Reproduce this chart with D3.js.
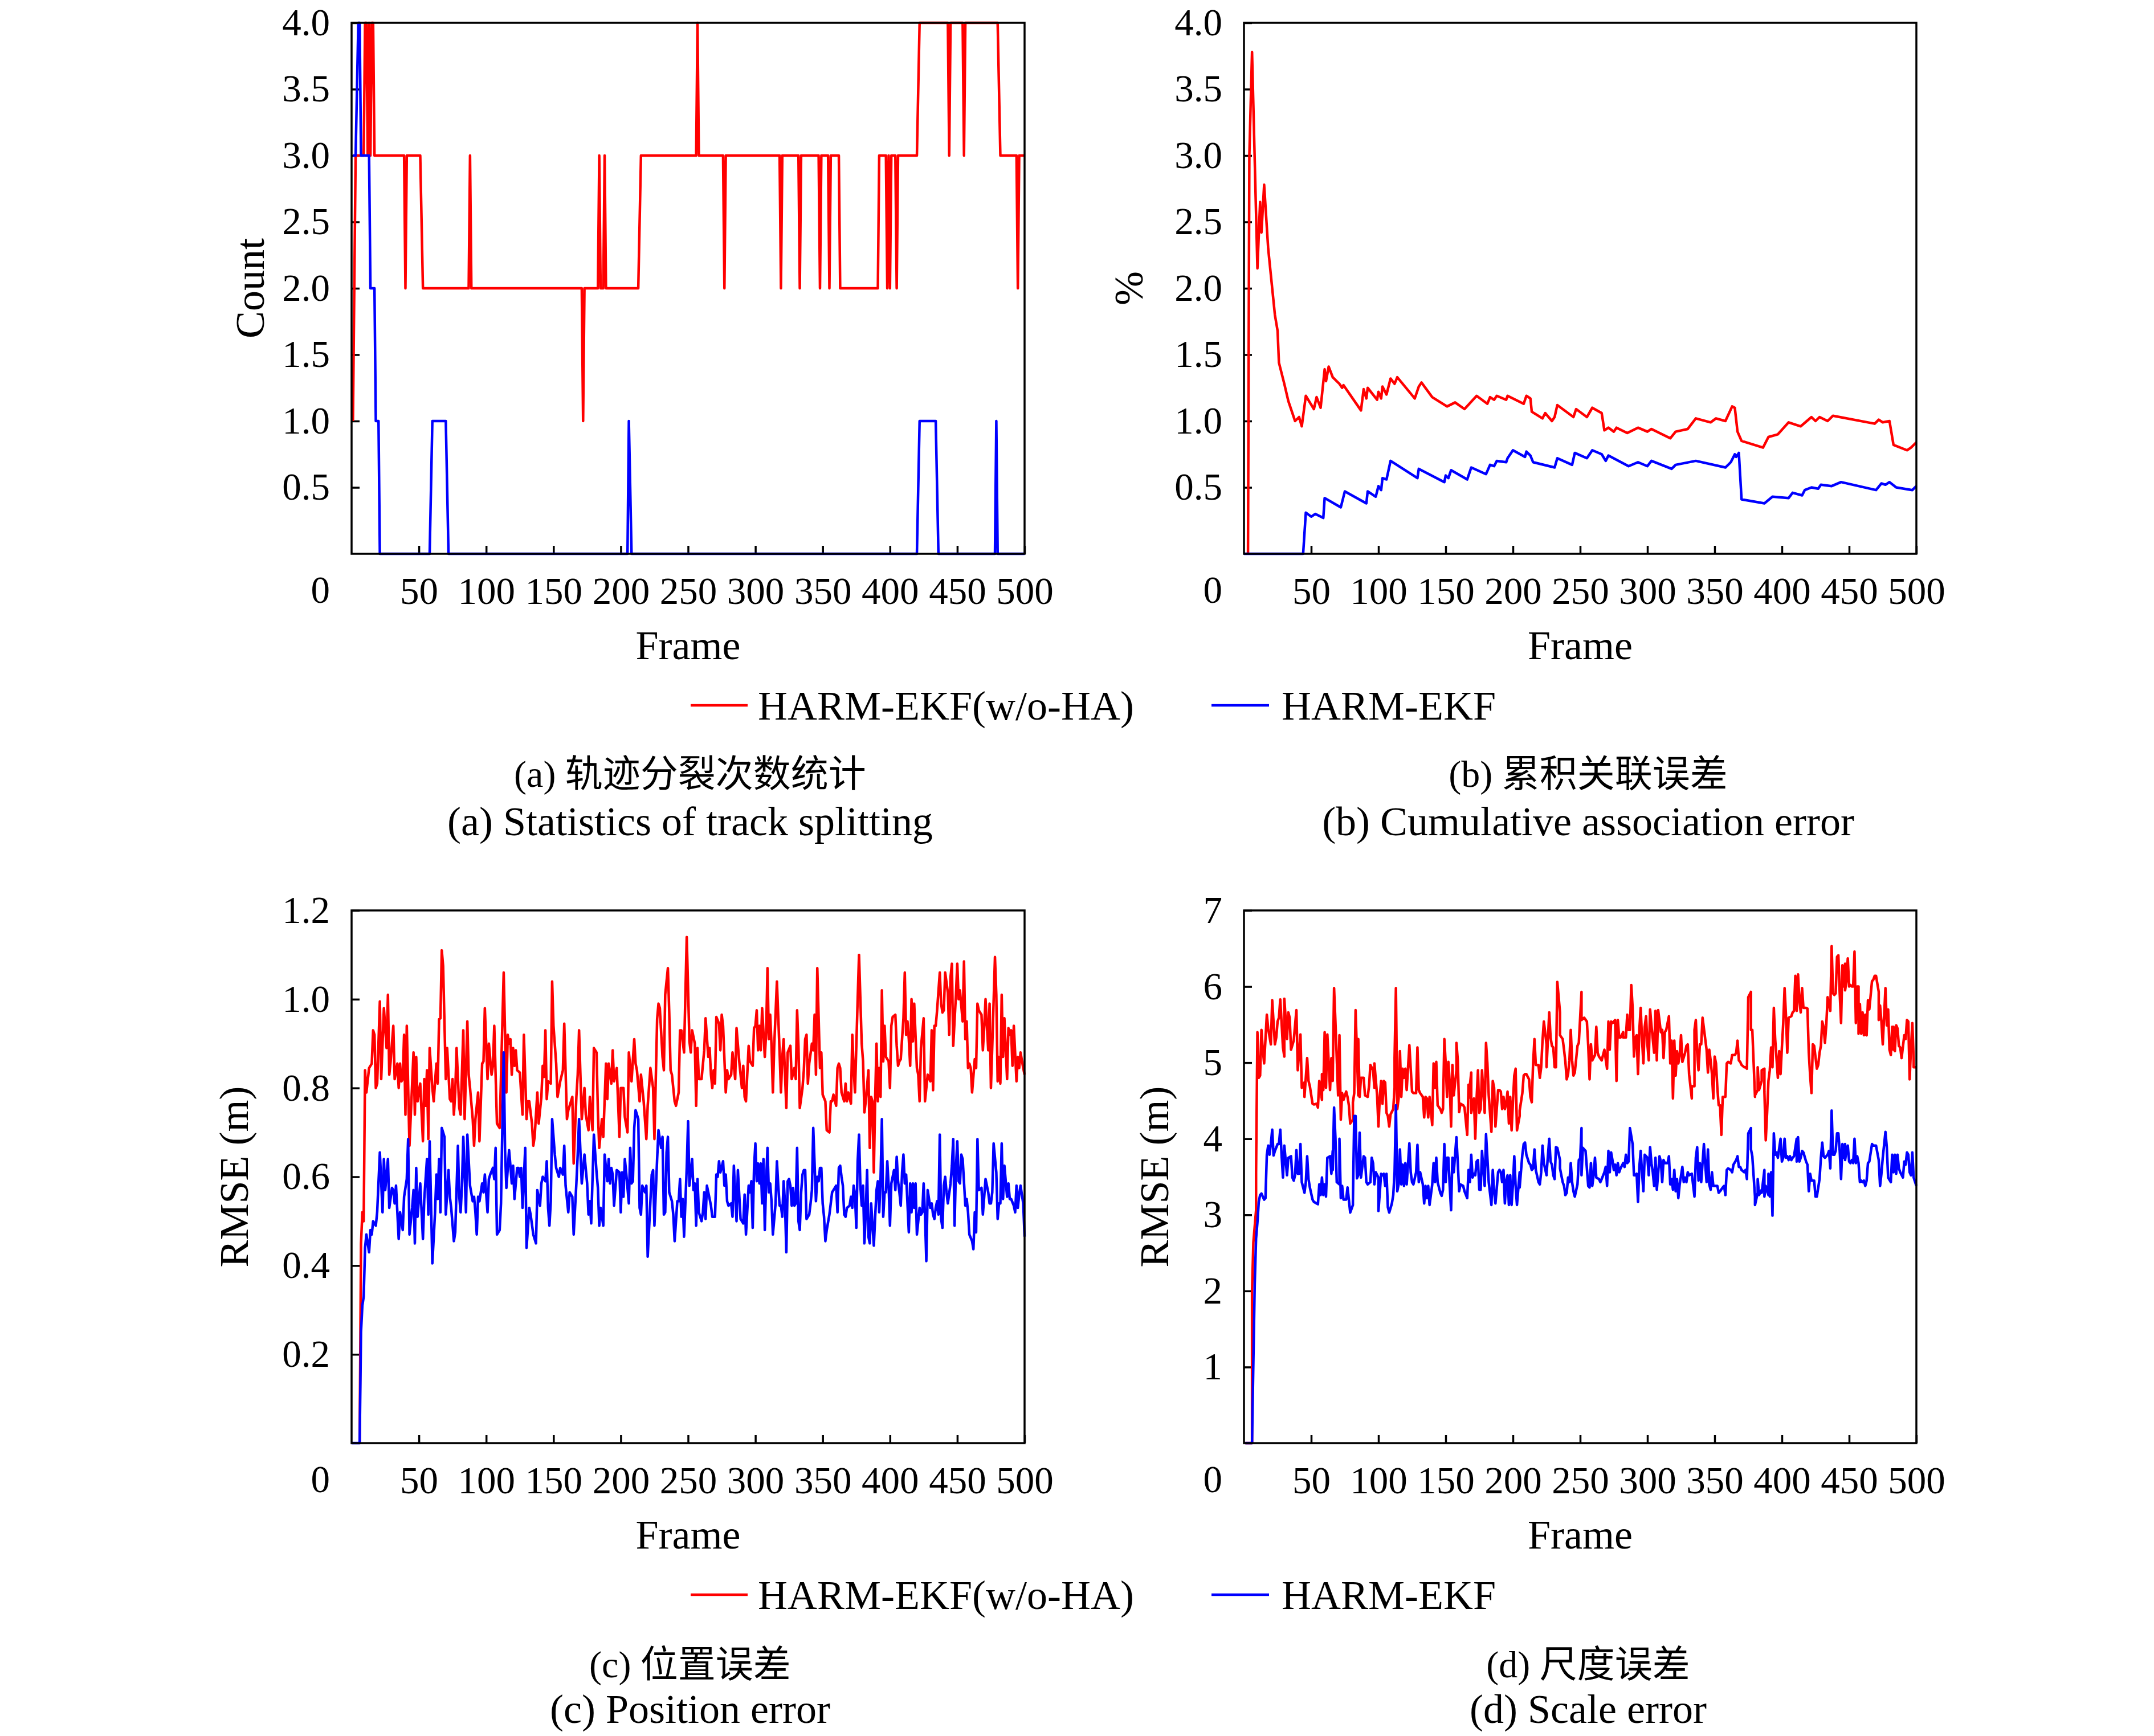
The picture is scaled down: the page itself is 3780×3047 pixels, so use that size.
<!DOCTYPE html>
<html lang="zh">
<head>
<meta charset="UTF-8">
<title>HARM-EKF comparison</title>
<script src="https://d3js.org/d3.v7.min.js"></script>
<style>
  body { margin: 0; background: #fff; }
  svg { display: block; }
</style>
</head>
<body>
<div id="chart"></div>
<script>
// ---- data ----
const frameTicks = [50, 100, 150, 200, 250, 300, 350, 400, 450, 500];
const seriesNames = ["HARM-EKF(w/o-HA)", "HARM-EKF"];

// (a) track splitting count, [frame, count]
const splitRed = [[1,1],[3,3],[9,3],[10,4],[11,4],[12,3],[13,4],[14,3],[15,4],[16,4],[17,3],[39,3],[40,2],[41,3],[51,3],[53,2],[87,2],[88,3],[89,2],[171,2],[172,1],[173,2],[183,2],[184,3],[185,2],[187,2],[188,3],[189,2],[213,2],[215,3],[256,3],[257,4],[258,3],[276,3],[277,2],[278,3],[318,3],[319,2],[320,3],[332,3],[333,2],[334,3],[347,3],[348,2],[349,3],[354,3],[355,2],[356,3],[362,3],[363,2],[391,2],[392,3],[397,3],[398,2],[399,3],[400,2],[401,3],[404,3],[405,2],[406,3],[420,3],[422,4],[443,4],[444,3],[445,4],[454,4],[455,3],[456,4],[480,4],[482,3],[494,3],[495,2],[496,3],[500,3]];
const splitBlue = [[1,3],[3,3],[5,4],[6,4],[7,3],[13,3],[14,2],[17,2],[18,1],[20,1],[21,0],[58,0],[60,1],[70,1],[72,0],[205,0],[206,1],[208,0],[420,0],[422,1],[434,1],[436,0],[478,0],[479,1],[480,0],[500,0]];

// (b) cumulative association error %, [frame, value]
const cumRed = [[3,0],[4,3.0],[6,3.78],[10,2.15],[12,2.65],[13,2.42],[15,2.78],[18,2.3],[20,2.1],[23,1.8],[25,1.68],[26,1.44],[30,1.28],[33,1.15],[36,1.06],[38,1.0],[41,1.03],[43,0.96],[46,1.19],[49,1.14],[52,1.09],[54,1.18],[57,1.1],[60,1.39],[61,1.3],[63,1.41],[66,1.33],[71,1.28],[73,1.25],[74,1.27],[87,1.08],[89,1.24],[91,1.17],[92,1.25],[99,1.16],[100,1.22],[102,1.17],[103,1.26],[106,1.2],[109,1.32],[112,1.28],[114,1.33],[127,1.17],[130,1.26],[132,1.29],[140,1.18],[151,1.11],[157,1.14],[164,1.09],[173,1.19],[181,1.13],[183,1.18],[186,1.16],[188,1.19],[195,1.16],[196,1.19],[208,1.13],[210,1.19],[213,1.17],[214,1.07],[222,1.02],[224,1.06],[229,1.0],[231,1.03],[233,1.12],[245,1.03],[247,1.09],[255,1.03],[259,1.1],[266,1.06],[268,0.93],[271,0.95],[275,0.92],[277,0.95],[285,0.91],[293,0.95],[300,0.92],[303,0.94],[317,0.87],[321,0.92],[330,0.94],[333,0.98],[336,1.02],[347,0.99],[351,1.02],[358,1.0],[363,1.11],[365,1.1],[367,0.92],[370,0.85],[386,0.8],[390,0.88],[397,0.9],[405,0.99],[414,0.96],[422,1.03],[425,1.0],[428,1.03],[434,1.0],[438,1.04],[469,0.98],[472,1.01],[475,0.99],[480,1.0],[483,0.82],[493,0.78],[496,0.8],[500,0.84]];
const cumBlue = [[0,0],[44,0],[46,0.31],[50,0.28],[53,0.3],[59,0.27],[60,0.42],[72,0.35],[75,0.47],[91,0.38],[92,0.47],[98,0.43],[100,0.51],[102,0.48],[103,0.57],[106,0.56],[109,0.7],[129,0.57],[130,0.64],[149,0.54],[150,0.59],[152,0.57],[154,0.63],[166,0.56],[169,0.65],[180,0.6],[183,0.67],[186,0.66],[188,0.7],[195,0.69],[196,0.72],[200,0.78],[209,0.73],[210,0.77],[213,0.74],[215,0.69],[231,0.65],[233,0.72],[244,0.67],[246,0.76],[255,0.72],[259,0.78],[266,0.75],[269,0.7],[271,0.74],[286,0.66],[293,0.69],[300,0.66],[303,0.7],[318,0.64],[321,0.67],[336,0.7],[358,0.65],[362,0.69],[365,0.75],[366,0.73],[368,0.76],[370,0.41],[387,0.38],[393,0.43],[405,0.42],[408,0.46],[415,0.44],[417,0.48],[422,0.5],[427,0.49],[429,0.52],[437,0.51],[444,0.54],[470,0.48],[474,0.53],[477,0.52],[480,0.54],[485,0.5],[497,0.48],[500,0.51]];

// (c) position error RMSE (m), [frame, value]
const posRed = [[6,0],[7,0.45],[8,0.52],[9,0.5],[10,0.84],[11,0.79],[13,0.845],[15,0.855],[16,0.93],[17,0.92],[18,0.8],[19,0.81],[21,0.995],[22,0.82],[24,0.98],[26,0.89],[27,1.01],[28,0.83],[29,0.86],[31,0.94],[32,0.82],[34,0.855],[35,0.8],[36,0.855],[37,0.815],[38,0.82],[39,0.92],[40,0.74],[41,0.94],[43,0.67],[44,0.74],[46,0.88],[47,0.74],[48,0.87],[49,0.77],[51,0.81],[53,0.68],[54,0.82],[55,0.76],[56,0.84],[57,0.685],[58,0.89],[60,0.8],[61,0.77],[63,0.855],[64,0.81],[65,0.955],[66,0.957],[67,1.11],[68,1.075],[70,0.82],[71,0.89],[73,0.775],[74,0.77],[75,0.82],[76,0.74],[77,0.79],[78,0.89],[80,0.755],[81,0.74],[83,0.93],[84,0.73],[86,0.95],[87,0.83],[88,0.8],[90,0.73],[91,0.67],[92,0.73],[94,0.79],[95,0.68],[97,0.855],[98,0.86],[99,0.98],[101,0.82],[102,0.9],[104,0.83],[105,0.85],[106,0.94],[108,0.72],[110,0.71],[113,1.06],[115,0.79],[116,0.92],[117,0.9],[118,0.91],[119,0.83],[120,0.89],[121,0.85],[122,0.885],[123,0.84],[125,0.835],[127,0.74],[128,0.92],[130,0.73],[131,0.77],[132,0.77],[134,0.72],[135,0.67],[136,0.69],[138,0.79],[139,0.72],[141,0.78],[142,0.85],[143,0.825],[144,0.93],[145,0.775],[146,0.815],[148,0.81],[149,1.04],[150,0.94],[152,0.855],[153,0.78],[155,0.815],[157,0.84],[158,0.945],[160,0.73],[161,0.75],[163,0.77],[164,0.78],[165,0.63],[167,0.78],[168,0.83],[169,0.93],[171,0.73],[173,0.8],[174,0.74],[176,0.705],[177,0.78],[179,0.705],[180,0.89],[182,0.88],[183,0.745],[184,0.665],[186,0.73],[187,0.69],[189,0.855],[190,0.775],[191,0.855],[193,0.81],[194,0.885],[195,0.815],[197,0.845],[199,0.69],[200,0.8],[202,0.8],[203,0.735],[205,0.7],[206,0.88],[208,0.815],[210,0.91],[211,0.855],[212,0.84],[214,0.77],[215,0.83],[217,0.77],[219,0.685],[220,0.76],[222,0.845],[224,0.8],[225,0.685],[227,0.955],[228,0.99],[229,0.98],[231,0.87],[232,0.84],[233,1.01],[235,1.07],[236,0.97],[237,0.84],[238,0.83],[240,0.77],[241,0.76],[243,0.79],[244,0.93],[245,0.93],[247,0.88],[249,1.14],[251,0.905],[252,0.88],[253,0.93],[255,0.9],[256,0.76],[257,0.89],[258,0.82],[260,0.82],[262,0.885],[263,0.957],[265,0.87],[266,0.89],[267,0.83],[268,0.8],[269,0.84],[270,0.81],[271,0.96],[273,0.945],[274,0.885],[275,0.965],[276,0.94],[278,0.79],[279,0.84],[280,0.82],[282,0.83],[283,0.88],[285,0.82],[286,0.935],[288,0.86],[290,0.8],[291,0.85],[292,0.78],[293,0.77],[295,0.895],[296,0.86],[298,0.85],[299,0.935],[300,0.94],[301,0.975],[302,0.885],[303,0.94],[304,0.885],[305,0.98],[307,0.87],[308,0.925],[309,1.07],[310,0.91],[311,0.965],[312,0.895],[313,0.79],[314,0.895],[316,1.04],[318,0.88],[319,0.79],[320,0.87],[321,0.91],[322,0.83],[323,0.755],[324,0.88],[326,0.895],[327,0.82],[329,0.845],[330,0.82],[331,0.975],[332,0.895],[333,0.755],[335,0.8],[336,0.84],[337,0.91],[338,0.92],[339,0.81],[340,0.855],[342,0.9],[343,0.885],[344,0.965],[345,0.83],[346,1.07],[348,0.845],[349,0.88],[350,0.785],[352,0.77],[353,0.705],[355,0.7],[356,0.77],[357,0.77],[358,0.785],[360,0.76],[361,0.845],[362,0.855],[363,0.845],[364,0.79],[366,0.77],[367,0.81],[368,0.77],[369,0.79],[371,0.765],[372,0.92],[373,0.845],[374,0.79],[376,1.0],[377,1.1],[379,0.9],[380,0.86],[381,0.745],[382,0.77],[384,0.84],[385,0.665],[386,0.78],[387,0.77],[388,0.61],[389,0.775],[390,0.9],[391,0.77],[392,0.845],[393,0.78],[394,1.02],[395,0.86],[396,0.94],[397,0.87],[399,0.86],[400,0.8],[401,0.94],[402,0.96],[404,0.965],[405,0.895],[406,0.85],[407,0.86],[408,0.865],[410,0.957],[411,1.06],[412,0.92],[413,0.95],[414,0.91],[415,0.85],[416,1.0],[417,0.905],[418,0.99],[420,0.845],[421,0.83],[422,0.77],[423,0.89],[425,0.957],[426,0.77],[427,0.8],[428,0.83],[430,0.815],[431,0.93],[432,0.795],[433,0.94],[434,0.94],[435,0.975],[437,1.06],[438,0.99],[439,0.97],[440,0.975],[441,1.06],[443,1.015],[444,0.92],[445,1.05],[446,1.08],[447,0.895],[449,1.01],[450,1.08],[451,1.0],[452,1.02],[454,0.95],[455,1.085],[456,0.91],[457,0.95],[458,0.845],[459,0.855],[460,0.845],[461,0.79],[463,0.865],[464,0.845],[465,0.99],[466,0.975],[468,0.965],[469,0.885],[470,0.935],[471,1.0],[473,0.885],[474,0.99],[475,0.8],[476,0.895],[478,1.095],[479,1.01],[480,0.815],[481,0.87],[482,0.81],[483,1.01],[484,0.87],[485,0.957],[487,0.82],[488,0.935],[489,0.92],[490,0.93],[491,0.85],[492,0.94],[494,0.815],[495,0.87],[496,0.845],[497,0.88],[499,0.845],[500,0.83]];
const posBlue = [[0,0],[6,0],[7,0.25],[8,0.31],[9,0.33],[10,0.44],[11,0.47],[13,0.43],[14,0.48],[15,0.47],[16,0.5],[18,0.49],[19,0.52],[21,0.655],[23,0.52],[24,0.64],[25,0.57],[27,0.64],[28,0.53],[30,0.575],[31,0.57],[32,0.54],[33,0.58],[35,0.46],[36,0.52],[38,0.48],[39,0.555],[41,0.595],[42,0.685],[43,0.47],[45,0.53],[46,0.57],[47,0.45],[48,0.62],[49,0.51],[51,0.585],[53,0.46],[54,0.55],[56,0.64],[57,0.515],[58,0.68],[60,0.405],[62,0.52],[63,0.605],[64,0.55],[65,0.64],[66,0.52],[67,0.71],[69,0.69],[70,0.515],[72,0.615],[73,0.555],[74,0.53],[76,0.455],[77,0.475],[79,0.67],[80,0.555],[81,0.52],[82,0.58],[83,0.69],[85,0.52],[86,0.695],[88,0.58],[90,0.545],[91,0.555],[92,0.52],[93,0.47],[94,0.555],[95,0.545],[97,0.585],[98,0.565],[99,0.605],[101,0.52],[102,0.595],[103,0.605],[105,0.62],[106,0.595],[107,0.665],[108,0.47],[110,0.48],[111,0.54],[113,0.88],[114,0.66],[115,0.575],[117,0.66],[118,0.625],[119,0.585],[120,0.625],[121,0.55],[123,0.62],[124,0.62],[125,0.6],[126,0.62],[127,0.53],[129,0.665],[130,0.44],[132,0.53],[133,0.515],[135,0.47],[137,0.45],[138,0.57],[140,0.535],[141,0.585],[142,0.6],[144,0.59],[145,0.635],[146,0.53],[147,0.49],[148,0.545],[149,0.73],[151,0.65],[152,0.62],[154,0.6],[155,0.62],[157,0.605],[158,0.67],[159,0.58],[161,0.52],[162,0.565],[164,0.555],[165,0.47],[167,0.585],[168,0.65],[169,0.73],[171,0.585],[173,0.65],[175,0.585],[176,0.515],[177,0.545],[178,0.495],[180,0.695],[182,0.61],[183,0.575],[184,0.49],[185,0.53],[187,0.49],[188,0.65],[190,0.59],[191,0.64],[192,0.585],[193,0.62],[194,0.605],[195,0.535],[197,0.615],[199,0.61],[200,0.52],[201,0.61],[202,0.555],[203,0.64],[204,0.61],[206,0.54],[207,0.665],[208,0.585],[209,0.59],[210,0.71],[211,0.75],[213,0.73],[214,0.53],[215,0.515],[216,0.58],[218,0.565],[219,0.58],[220,0.42],[222,0.545],[223,0.605],[224,0.615],[225,0.49],[227,0.64],[228,0.705],[230,0.665],[231,0.69],[232,0.515],[233,0.52],[234,0.655],[235,0.69],[236,0.565],[238,0.545],[239,0.515],[240,0.455],[242,0.545],[243,0.545],[244,0.595],[245,0.51],[246,0.55],[247,0.465],[249,0.62],[250,0.725],[251,0.58],[253,0.64],[254,0.57],[255,0.585],[256,0.49],[257,0.595],[258,0.52],[260,0.5],[261,0.52],[262,0.565],[263,0.505],[264,0.58],[265,0.565],[267,0.535],[268,0.51],[270,0.51],[271,0.605],[272,0.6],[273,0.635],[274,0.61],[276,0.635],[277,0.58],[278,0.605],[279,0.545],[280,0.535],[282,0.54],[283,0.51],[284,0.625],[285,0.565],[286,0.5],[287,0.615],[289,0.505],[290,0.5],[291,0.495],[292,0.56],[293,0.47],[295,0.58],[296,0.565],[297,0.59],[298,0.485],[299,0.62],[300,0.675],[301,0.59],[302,0.63],[303,0.585],[304,0.63],[305,0.54],[306,0.64],[307,0.48],[308,0.59],[309,0.665],[310,0.565],[311,0.585],[312,0.545],[313,0.47],[315,0.54],[316,0.635],[317,0.58],[318,0.535],[319,0.535],[320,0.51],[321,0.59],[322,0.54],[323,0.43],[324,0.59],[325,0.595],[326,0.58],[327,0.535],[328,0.575],[329,0.535],[330,0.54],[331,0.665],[332,0.5],[333,0.48],[334,0.565],[335,0.605],[336,0.615],[337,0.615],[338,0.505],[340,0.515],[341,0.54],[342,0.57],[343,0.71],[345,0.545],[346,0.6],[347,0.59],[348,0.62],[349,0.62],[350,0.54],[351,0.51],[352,0.455],[353,0.48],[355,0.515],[356,0.54],[357,0.565],[358,0.57],[360,0.58],[361,0.52],[362,0.62],[363,0.625],[364,0.6],[365,0.58],[366,0.515],[367,0.51],[368,0.53],[370,0.535],[371,0.555],[372,0.53],[373,0.58],[374,0.56],[375,0.485],[376,0.635],[377,0.695],[378,0.58],[379,0.535],[380,0.58],[381,0.45],[382,0.52],[383,0.615],[384,0.465],[385,0.45],[386,0.54],[388,0.445],[389,0.51],[390,0.57],[391,0.59],[392,0.52],[393,0.595],[394,0.73],[395,0.51],[396,0.565],[397,0.565],[398,0.635],[399,0.58],[400,0.49],[401,0.585],[403,0.615],[404,0.57],[405,0.645],[406,0.59],[407,0.565],[408,0.535],[409,0.61],[410,0.65],[411,0.585],[412,0.605],[414,0.475],[415,0.585],[416,0.52],[417,0.585],[418,0.53],[419,0.585],[420,0.47],[422,0.53],[423,0.515],[424,0.52],[425,0.585],[426,0.515],[427,0.41],[428,0.57],[430,0.53],[431,0.54],[432,0.515],[433,0.505],[434,0.53],[435,0.545],[436,0.515],[437,0.695],[438,0.505],[439,0.485],[440,0.58],[441,0.6],[442,0.565],[443,0.54],[445,0.585],[446,0.625],[447,0.685],[448,0.49],[449,0.62],[450,0.68],[451,0.59],[452,0.585],[453,0.65],[454,0.64],[456,0.535],[457,0.55],[458,0.52],[459,0.47],[461,0.455],[462,0.437],[463,0.52],[464,0.475],[465,0.685],[466,0.57],[468,0.575],[469,0.515],[470,0.555],[471,0.595],[473,0.565],[474,0.54],[475,0.54],[476,0.565],[477,0.675],[479,0.61],[480,0.505],[481,0.54],[482,0.54],[483,0.675],[484,0.55],[485,0.625],[487,0.555],[488,0.585],[489,0.55],[490,0.55],[492,0.535],[493,0.52],[494,0.58],[495,0.53],[496,0.56],[497,0.58],[499,0.54],[500,0.465]];

// (d) scale error RMSE (m), [frame, value]
const scaleRed = [[1,0],[6,0],[6,2.0],[7,2.64],[9,3.06],[9,3.56],[10,5.4],[11,4.8],[12,4.83],[13,5.43],[14,5.17],[15,4.99],[17,5.63],[18,5.45],[20,5.24],[21,5.82],[23,5.24],[24,5.33],[25,5.54],[26,5.59],[27,5.83],[29,5.2],[30,5.08],[30,5.84],[32,5.31],[33,5.66],[34,5.59],[35,5.17],[37,5.29],[39,5.69],[40,4.9],[41,5.13],[42,5.37],[43,4.67],[45,4.74],[45,4.55],[47,5.06],[48,4.76],[49,4.69],[51,4.46],[52,4.45],[54,4.46],[55,4.41],[56,4.76],[58,4.51],[58,4.85],[59,4.64],[60,5.4],[61,4.67],[62,5.37],[64,4.64],[65,5.06],[66,4.76],[67,5.98],[68,5.54],[70,4.57],[71,5.36],[72,4.25],[73,4.6],[74,4.51],[76,4.62],[77,4.55],[78,4.44],[79,4.2],[81,4.25],[81,4.48],[82,4.6],[83,5.69],[85,4.57],[85,5.31],[86,4.55],[87,4.8],[89,4.8],[90,4.57],[92,4.55],[93,4.69],[94,4.97],[96,4.9],[97,4.67],[97,4.99],[99,4.57],[100,4.16],[101,4.55],[102,4.76],[103,4.46],[104,4.76],[105,4.74],[106,4.34],[107,4.3],[108,4.16],[109,4.32],[111,4.39],[112,4.67],[112,5.06],[113,5.98],[114,4.39],[115,4.53],[116,5.15],[117,4.55],[118,4.92],[119,4.8],[120,4.92],[121,4.64],[123,5.23],[124,4.92],[125,4.62],[126,4.6],[128,4.6],[129,5.2],[130,4.64],[131,4.6],[133,4.55],[134,4.28],[135,4.55],[136,4.53],[137,4.28],[138,4.55],[140,4.18],[141,4.99],[142,4.67],[143,5.01],[144,4.44],[146,4.39],[147,4.34],[148,4.39],[149,5.31],[150,4.99],[151,4.55],[152,5.01],[153,4.74],[154,4.16],[155,4.97],[156,4.57],[158,4.9],[158,5.26],[159,5.03],[160,4.35],[161,4.46],[163,4.44],[164,4.41],[166,4.05],[167,4.71],[167,4.53],[169,4.87],[169,4.34],[171,4.53],[172,4.0],[173,4.53],[174,4.9],[175,4.34],[176,4.39],[177,4.9],[179,4.34],[180,5.26],[181,4.99],[182,4.57],[184,4.09],[185,4.76],[186,4.67],[187,4.16],[189,4.64],[190,4.64],[191,4.62],[192,4.39],[193,4.55],[194,4.39],[195,4.46],[196,4.62],[197,4.2],[198,4.55],[199,4.11],[200,4.48],[201,4.83],[202,4.92],[203,4.11],[205,4.3],[205,4.37],[207,4.6],[208,4.83],[209,4.85],[210,4.85],[212,4.78],[213,4.55],[214,4.48],[215,4.99],[216,5.31],[217,4.97],[219,4.97],[220,4.8],[221,4.94],[222,5.29],[223,5.54],[225,5.24],[225,4.94],[227,5.66],[228,5.33],[229,5.22],[230,5.2],[231,4.94],[232,4.94],[233,6.06],[235,5.66],[235,5.36],[237,5.31],[238,5.17],[239,5.01],[240,4.78],[241,4.85],[242,5.03],[243,5.43],[244,5.03],[245,4.83],[246,4.87],[248,5.22],[249,5.26],[251,5.93],[251,5.56],[253,5.59],[255,5.54],[256,5.22],[257,4.78],[258,5.24],[259,5.03],[261,5.1],[262,5.47],[263,5.13],[264,5.08],[266,5.03],[268,5.17],[270,4.92],[271,5.54],[272,5.17],[273,5.54],[274,5.52],[276,5.56],[277,4.76],[278,5.56],[279,5.33],[280,5.33],[282,5.4],[282,5.33],[284,5.33],[285,5.63],[286,5.43],[287,5.43],[288,6.02],[289,5.72],[290,5.08],[291,5.33],[292,5.36],[293,4.85],[294,5.43],[295,5.72],[296,5.31],[297,4.99],[298,5.47],[299,5.61],[300,5.24],[301,5.03],[302,5.7],[303,5.49],[305,5.13],[306,5.68],[307,5.03],[308,5.69],[310,5.4],[311,5.43],[312,5.06],[313,5.4],[314,5.43],[316,5.61],[317,4.99],[318,5.29],[319,4.53],[320,5.29],[321,4.83],[322,5.15],[323,4.99],[324,5.1],[325,5.36],[326,5.01],[328,5.13],[329,5.22],[330,5.24],[331,4.85],[333,4.53],[333,4.69],[335,4.69],[335,5.43],[336,5.56],[337,5.13],[338,4.9],[339,5.24],[340,5.24],[341,5.59],[343,5.31],[344,5.17],[345,4.87],[346,5.17],[347,5.03],[348,4.85],[349,4.53],[350,5.08],[351,4.99],[352,4.67],[353,4.44],[354,4.44],[355,4.05],[356,4.55],[358,4.55],[359,4.99],[360,5.01],[362,4.99],[363,5.1],[365,5.1],[366,5.13],[367,5.29],[368,5.03],[369,5.01],[370,4.97],[372,4.94],[373,4.94],[374,4.92],[375,5.86],[377,5.93],[377,5.43],[378,5.43],[380,4.55],[380,4.57],[382,4.64],[382,4.94],[383,4.64],[385,4.76],[385,4.9],[387,4.92],[387,4.62],[388,3.98],[389,4.34],[390,4.76],[391,4.9],[392,5.2],[393,4.94],[394,5.72],[395,5.31],[397,4.8],[398,5.15],[399,4.85],[400,5.2],[401,5.52],[402,5.98],[403,5.63],[404,5.13],[405,5.59],[407,5.61],[408,5.66],[409,5.68],[410,6.14],[411,5.68],[412,6.16],[413,5.82],[414,5.66],[415,5.98],[416,5.72],[418,5.72],[419,5.71],[420,5.13],[421,4.83],[422,4.6],[423,5.24],[424,5.22],[426,4.92],[427,4.97],[428,5.13],[429,5.22],[430,5.54],[431,5.47],[432,5.26],[433,5.49],[434,5.86],[436,5.68],[437,6.53],[438,5.91],[439,5.89],[440,5.91],[441,6.39],[442,6.41],[443,5.91],[444,5.52],[445,6.28],[446,6.0],[447,6.3],[447,5.95],[448,6.07],[449,6.37],[450,6.0],[451,6.02],[452,6.0],[453,6.0],[454,6.46],[455,5.52],[456,6.0],[457,6.0],[457,5.38],[458,5.77],[459,5.38],[460,5.66],[461,5.36],[462,5.63],[462,5.38],[463,5.36],[464,5.82],[465,5.7],[467,6.07],[468,6.09],[469,6.14],[470,6.14],[472,5.93],[472,5.56],[473,5.75],[474,5.54],[475,5.24],[476,5.61],[477,5.98],[478,5.49],[479,5.7],[480,5.17],[481,5.1],[482,5.47],[483,5.17],[483,5.47],[484,5.15],[485,5.49],[486,5.45],[487,5.22],[488,5.2],[489,5.06],[491,5.36],[492,5.31],[493,5.56],[494,5.54],[495,4.78],[496,5.2],[497,5.52],[498,5.03],[498,4.94],[500,4.94]];
const scaleBlue = [[1,0],[6,0],[7,1.08],[8,2.09],[9,2.69],[10,2.9],[11,3.17],[12,3.26],[13,3.28],[15,3.2],[16,3.22],[17,3.79],[18,3.91],[19,3.79],[20,3.93],[21,4.12],[22,3.78],[23,3.84],[25,3.93],[26,3.93],[27,4.12],[28,3.78],[29,3.49],[30,3.91],[31,3.72],[32,3.52],[33,3.75],[35,3.77],[36,3.49],[37,3.45],[38,3.52],[39,3.85],[40,3.54],[41,3.54],[42,3.93],[43,3.43],[45,3.29],[46,3.43],[47,3.77],[48,3.47],[49,3.36],[51,3.2],[52,3.17],[54,3.15],[55,3.14],[56,3.4],[57,3.26],[58,3.49],[59,3.26],[60,3.4],[61,3.24],[62,3.75],[64,3.77],[65,3.54],[66,3.84],[66,3.59],[67,4.41],[68,4.02],[69,3.43],[71,3.4],[71,4.0],[72,3.22],[73,3.38],[74,3.2],[76,3.2],[77,3.36],[78,3.2],[79,3.03],[81,3.13],[81,3.17],[82,4.3],[83,4.3],[84,3.48],[85,3.52],[86,4.08],[87,3.49],[89,3.77],[90,3.75],[91,3.43],[92,3.4],[94,3.43],[95,3.75],[96,3.68],[97,3.4],[98,3.56],[100,3.49],[100,3.05],[102,3.54],[103,3.52],[104,3.54],[105,3.38],[106,3.54],[107,3.1],[108,3.03],[110,3.15],[111,3.26],[112,3.56],[113,4.44],[114,3.31],[115,3.4],[116,3.86],[117,3.4],[118,3.66],[119,3.38],[120,3.68],[121,3.4],[123,3.94],[124,3.56],[125,3.43],[126,3.4],[128,3.56],[129,3.92],[130,3.43],[131,3.56],[133,3.4],[134,3.15],[135,3.38],[136,3.22],[137,3.38],[138,3.13],[140,3.4],[141,3.68],[142,3.43],[143,3.75],[144,3.43],[146,3.29],[147,3.25],[148,3.33],[149,3.93],[150,3.43],[151,3.75],[152,3.75],[153,3.38],[154,3.06],[155,3.75],[156,3.56],[158,4.02],[159,3.68],[160,3.31],[161,3.4],[163,3.38],[164,3.31],[166,3.22],[167,3.59],[168,3.43],[169,3.79],[170,3.49],[171,3.54],[172,3.52],[173,3.7],[174,3.72],[175,3.33],[176,3.33],[177,3.84],[179,3.38],[180,4.06],[181,3.75],[182,3.43],[184,3.13],[185,3.59],[186,3.31],[187,3.15],[189,3.56],[190,3.59],[191,3.56],[192,3.43],[193,3.59],[194,3.15],[195,3.45],[196,3.52],[197,3.13],[198,3.52],[199,3.13],[200,3.4],[201,3.77],[202,3.38],[203,3.13],[205,3.56],[205,3.36],[207,3.79],[208,3.93],[209,3.95],[210,3.79],[212,3.68],[213,3.66],[214,3.59],[215,3.61],[216,3.86],[217,3.59],[219,3.43],[220,3.4],[221,3.56],[222,3.91],[223,3.68],[225,3.52],[225,3.54],[227,4.0],[228,3.7],[229,3.66],[230,3.52],[231,3.47],[232,3.89],[233,3.88],[235,3.72],[235,3.61],[237,3.43],[238,3.38],[239,3.26],[240,3.29],[241,3.49],[242,3.43],[243,3.68],[244,3.43],[245,3.31],[246,3.24],[248,3.4],[249,3.72],[250,3.74],[251,4.14],[251,3.52],[252,3.88],[253,3.86],[254,3.84],[256,3.38],[257,3.36],[258,3.68],[259,3.38],[260,3.52],[261,3.75],[262,3.49],[264,3.47],[265,3.43],[266,3.47],[268,3.56],[269,3.63],[270,3.38],[271,3.84],[272,3.56],[273,3.82],[274,3.72],[275,3.59],[276,3.66],[277,3.52],[278,3.68],[279,3.56],[280,3.61],[282,3.68],[283,3.63],[284,3.79],[285,3.68],[286,3.7],[287,4.14],[289,3.93],[290,3.52],[291,3.52],[292,3.54],[293,3.17],[294,3.63],[295,3.84],[296,3.56],[297,3.31],[298,3.79],[300,3.75],[301,3.52],[302,3.89],[303,3.68],[304,3.56],[305,3.38],[306,3.75],[307,3.33],[309,3.77],[310,3.7],[311,3.43],[312,3.72],[313,3.68],[315,3.68],[316,3.77],[317,3.4],[318,3.47],[319,3.33],[320,3.59],[321,3.31],[322,3.47],[323,3.22],[324,3.4],[326,3.63],[327,3.43],[328,3.49],[329,3.43],[330,3.56],[331,3.52],[333,3.54],[335,3.24],[336,3.75],[337,3.89],[338,3.45],[339,3.68],[340,3.43],[342,3.93],[343,3.66],[344,3.43],[345,3.86],[346,3.4],[347,3.33],[348,3.56],[349,3.38],[351,3.38],[352,3.38],[353,3.29],[354,3.31],[356,3.36],[357,3.38],[358,3.26],[359,3.59],[360,3.61],[362,3.59],[363,3.56],[364,3.66],[366,3.72],[367,3.77],[368,3.63],[369,3.63],[370,3.59],[372,3.56],[373,3.59],[374,3.47],[375,4.07],[377,4.14],[377,3.86],[378,3.77],[380,3.24],[380,3.13],[382,3.29],[382,3.47],[383,3.26],[385,3.33],[385,3.29],[387,3.59],[387,3.24],[388,3.38],[390,3.26],[390,3.54],[391,3.24],[392,3.56],[393,2.99],[394,4.07],[395,3.79],[396,3.82],[397,3.75],[399,4.0],[400,3.7],[401,3.75],[402,4.0],[403,3.75],[404,3.77],[405,3.72],[406,3.77],[407,3.72],[408,3.75],[409,3.77],[411,4.0],[411,3.7],[412,4.02],[413,3.7],[414,3.75],[415,3.84],[416,3.82],[418,3.7],[419,3.66],[420,3.31],[421,3.54],[422,3.45],[424,3.45],[425,3.24],[426,3.24],[428,3.47],[429,3.75],[430,3.95],[431,3.77],[432,3.75],[434,3.79],[435,3.84],[436,3.61],[437,4.37],[438,3.79],[439,3.79],[440,3.84],[441,4.07],[442,4.07],[443,3.84],[444,3.47],[445,3.93],[446,3.75],[447,3.93],[447,3.72],[448,3.84],[449,3.91],[450,3.7],[451,3.68],[452,3.72],[453,3.68],[454,4.0],[455,3.68],[456,3.77],[457,3.68],[458,3.43],[459,3.45],[460,3.43],[461,3.45],[462,3.38],[463,3.45],[464,3.68],[465,3.7],[467,3.93],[468,3.91],[470,3.91],[472,3.72],[473,3.38],[474,3.54],[475,3.75],[477,4.09],[478,3.89],[479,3.49],[481,3.43],[482,3.79],[483,3.56],[484,3.79],[485,3.54],[486,3.79],[487,3.61],[488,3.56],[490,3.49],[491,3.7],[492,3.66],[493,3.82],[494,3.79],[495,3.56],[496,3.52],[497,3.82],[498,3.49],[500,3.38]];

const countTicks = [0.5, 1.0, 1.5, 2.0, 2.5, 3.0, 3.5, 4.0];
const percentTicks = [0.5, 1.0, 1.5, 2.0, 2.5, 3.0, 3.5, 4.0];
const posTicks = [0.2, 0.4, 0.6, 0.8, 1.0, 1.2];
const scaleTicks = [1, 2, 3, 4, 5, 6, 7];

const captionsZh = ["(a) 轨迹分裂次数统计", "(b) 累积关联误差", "(c) 位置误差", "(d) 尺度误差"];
const captionsEn = ["(a) Statistics of track splitting", "(b) Cumulative association error", "(c) Position error", "(d) Scale error"];

// ---- layout ----
const W = 3780, H = 3047;
const SERIF = "'Liberation Serif', 'Times New Roman', serif";
const CJK = "'Liberation Serif', 'Noto Sans CJK SC', serif";
const RED = "#ff0000", BLUE = "#0000ff";
const colors = [RED, BLUE];
const lineW = 4.5;

const svg = d3.select("#chart").append("svg")
    .attr("width", W)
    .attr("height", H)
    .attr("viewBox", `0 0 ${W} ${H}`);
svg.append("rect").attr("width", W).attr("height", H).attr("fill", "#fff");

const colL = {left: 617, right: 1798};
const colR = {left: 2183, right: 3363};
const row1 = {top: 40, bottom: 972, zh: 1358, en: 1441};
const row2 = {top: 1598, bottom: 2533, zh: 2921, en: 2999};

const panels = [
    {col: colL, row: row1, ymax: 4, ticks: countTicks, fmt: d3.format(".1f"), label: "Count", labelX: 438, series: [splitRed, splitBlue]},
    {col: colR, row: row1, ymax: 4, ticks: percentTicks, fmt: d3.format(".1f"), label: "%", labelX: 1980, series: [cumRed, cumBlue]},
    {col: colL, row: row2, ymax: 1.2, ticks: posTicks, fmt: d3.format(".1f"), label: "RMSE (m)", labelX: 410, series: [posRed, posBlue]},
    {col: colR, row: row2, ymax: 7, ticks: scaleTicks, fmt: d3.format("d"), label: "RMSE (m)", labelX: 2025, series: [scaleRed, scaleBlue]}
];

function styleAxis(g) {
    g.attr("font-family", SERIF).attr("font-size", 67);
    g.select(".domain").remove();
    g.selectAll(".tick line").attr("stroke", "#000").attr("stroke-width", 3.5);
    g.selectAll(".tick text").attr("fill", "#000");
}

panels.forEach(p => {
    const x = d3.scaleLinear().domain([0, 500]).range([p.col.left, p.col.right]);
    const y = d3.scaleLinear().domain([0, p.ymax]).range([p.row.bottom, p.row.top]);

    // x axis, ticks pointing inward
    svg.append("g")
        .attr("transform", `translate(0,${p.row.bottom})`)
        .call(d3.axisBottom(x).tickValues(frameTicks).tickSizeInner(-14).tickSizeOuter(0).tickPadding(40))
        .call(styleAxis);

    // y axis, ticks pointing inward
    svg.append("g")
        .attr("transform", `translate(${p.col.left},0)`)
        .call(d3.axisLeft(y).tickValues(p.ticks).tickFormat(p.fmt).tickSizeInner(-14).tickSizeOuter(0).tickPadding(38))
        .call(styleAxis);

    // shared "0" at the corner
    svg.append("text")
        .attr("x", p.col.left - 38)
        .attr("y", p.row.bottom + 65)
        .attr("dy", "0.32em")
        .attr("text-anchor", "end")
        .attr("font-family", SERIF)
        .attr("font-size", 67)
        .text("0");

    // series
    const line = d3.line().x(d => x(d[0])).y(d => y(d[1]));
    p.series.forEach((s, i) => {
        svg.append("path")
            .datum(s)
            .attr("d", line)
            .attr("fill", "none")
            .attr("stroke", colors[i])
            .attr("stroke-width", lineW)
            .attr("stroke-linejoin", "round");
    });

    // frame
    svg.append("rect")
        .attr("x", p.col.left)
        .attr("y", p.row.top)
        .attr("width", p.col.right - p.col.left)
        .attr("height", p.row.bottom - p.row.top)
        .attr("fill", "none")
        .attr("stroke", "#000")
        .attr("stroke-width", 3.5);

    // axis titles
    svg.append("text")
        .attr("x", (p.col.left + p.col.right) / 2)
        .attr("y", p.row.bottom + 160)
        .attr("dy", "0.35em")
        .attr("text-anchor", "middle")
        .attr("font-family", SERIF)
        .attr("font-size", 72)
        .text("Frame");

    const cy = (p.row.top + p.row.bottom) / 2;
    svg.append("text")
        .attr("transform", `translate(${p.labelX},${cy}) rotate(-90)`)
        .attr("dy", "0.35em")
        .attr("text-anchor", "middle")
        .attr("font-family", SERIF)
        .attr("font-size", 72)
        .text(p.label);
});

// legends (one per row)
[row1, row2].forEach(r => {
    const ly = r.bottom + 266;
    const items = [{x1: 1212, x2: 1312, tx: 1330}, {x1: 2126, x2: 2227, tx: 2249}];
    seriesNames.forEach((name, i) => {
        svg.append("line")
            .attr("x1", items[i].x1).attr("x2", items[i].x2)
            .attr("y1", ly).attr("y2", ly)
            .attr("stroke", colors[i])
            .attr("stroke-width", lineW);
        svg.append("text")
            .attr("x", items[i].tx)
            .attr("y", ly)
            .attr("dy", "0.35em")
            .attr("font-family", SERIF)
            .attr("font-size", 72)
            .text(name);
    });
});

// captions
const capX = [1211, 2787, 1211, 2787];
const capRows = [row1, row1, row2, row2];
capX.forEach((cx, i) => {
    svg.append("text")
        .attr("x", cx).attr("y", capRows[i].zh).attr("dy", "0.35em")
        .attr("text-anchor", "middle")
        .attr("font-family", CJK)
        .attr("font-size", 66)
        .text(captionsZh[i]);
    svg.append("text")
        .attr("x", cx).attr("y", capRows[i].en).attr("dy", "0.35em")
        .attr("text-anchor", "middle")
        .attr("font-family", SERIF)
        .attr("font-size", 72)
        .text(captionsEn[i]);
});
</script>
</body>
</html>
